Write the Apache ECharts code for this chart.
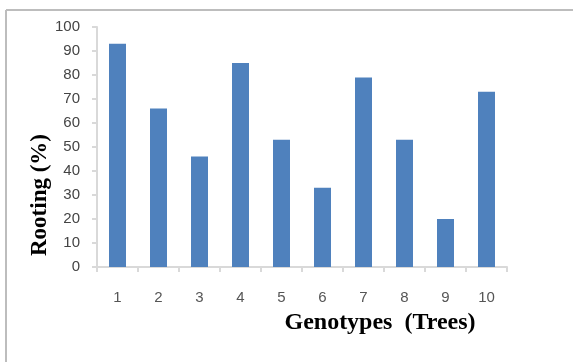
<!DOCTYPE html>
<html>
<head>
<meta charset="utf-8">
<script src="https://cdn.jsdelivr.net/npm/echarts@6/dist/echarts.min.js"></script>
<style>html,body{margin:0;padding:0;background:#fff}#c{width:573px;height:362px}</style>
</head>
<body>
<div id="c"></div>
<script>
var categories = ['1','2','3','4','5','6','7','8','9','10'];
var rooting = [93, 66, 46, 85, 53, 33, 79, 53, 20, 73];
var yTitle = 'Rooting (%)';
var xTitle = 'Genotypes  (Trees)';

var chart = echarts.init(document.getElementById('c'));
chart.setOption({
  animation: false,
  backgroundColor: '#fff',
  grid: {left: 97, right: 66, top: 27, bottom: 95, containLabel: false},
  xAxis: {
    type: 'category',
    data: categories,
    boundaryGap: true,
    axisLine: {lineStyle: {color: '#d9d9d9', width: 2}},
    axisTick: {show: true, length: 5, lineStyle: {color: '#d9d9d9', width: 2}},
    axisLabel: {color: '#555', fontFamily: 'Liberation Sans', fontSize: 15, margin: 23}
  },
  yAxis: {
    type: 'value',
    min: 0, max: 100, interval: 10,
    axisLine: {show: true, lineStyle: {color: '#d9d9d9', width: 2}},
    axisTick: {show: true, length: 5, lineStyle: {color: '#d9d9d9', width: 2}},
    splitLine: {show: false},
    axisLabel: {color: '#444', fontFamily: 'Liberation Sans', fontSize: 15, margin: 17}
  },
  graphic: [
    {type: 'line', shape: {x1: 6, y1: 10, x2: 573, y2: 10}, style: {stroke: '#bdbdbd', lineWidth: 2}},
    {type: 'line', shape: {x1: 6, y1: 10, x2: 6, y2: 362}, style: {stroke: '#bdbdbd', lineWidth: 2}},
    {type: 'text', x: 40, y: 195, rotation: Math.PI / 2,
     style: {text: yTitle, font: 'bold 23px "Liberation Serif"', fill: '#000', align: 'center', verticalAlign: 'middle'}},
    {type: 'text', x: 380, y: 323,
     style: {text: xTitle, font: 'bold 24px "Liberation Serif"', fill: '#000', align: 'center', verticalAlign: 'middle'}}
  ],
  series: [{
    type: 'bar',
    data: rooting,
    barWidth: 17,
    itemStyle: {color: '#4f81bd'}
  }]
});
</script>
</body>
</html>
